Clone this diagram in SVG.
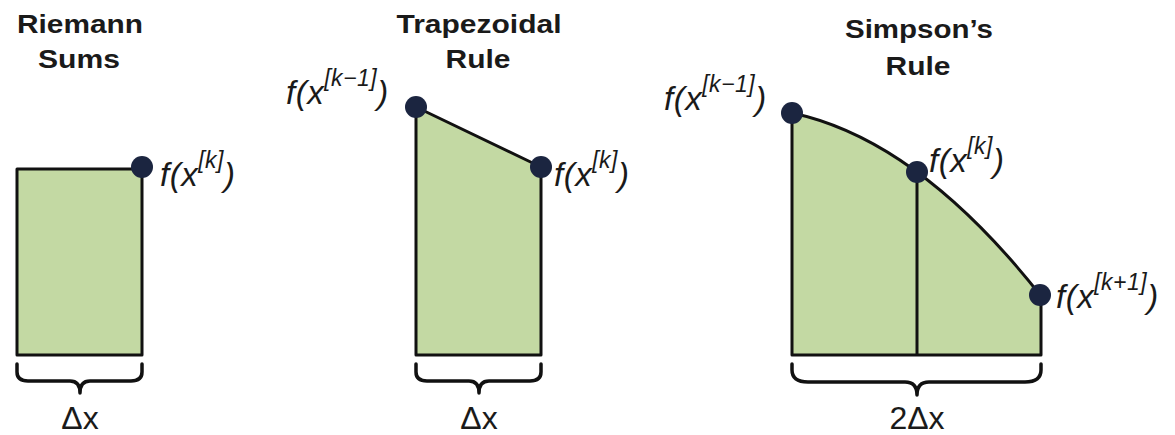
<svg xmlns="http://www.w3.org/2000/svg" width="1175" height="435" viewBox="0 0 1175 435">
<style>
.title{font-family:"Liberation Sans",Arial,sans-serif;font-weight:bold;font-size:25px;fill:#1a1a1a;text-anchor:middle}
.lab{font-family:"Liberation Sans",Arial,sans-serif;font-style:italic;font-size:33px;fill:#1a1a1a;letter-spacing:0.5px}
.sup{font-size:23px}
.dx{font-family:"Liberation Sans",Arial,sans-serif;font-size:32px;fill:#1a1a1a;text-anchor:middle}
.area{fill:#c3d9a3;stroke:#111;stroke-width:3;stroke-linejoin:round}
.edge{fill:none;stroke:#111;stroke-width:3}
.brace{fill:none;stroke:#111;stroke-width:3.5;stroke-linecap:round;stroke-linejoin:round}
.dot{fill:#1b2540}
</style>
<rect width="1175" height="435" fill="#ffffff"/>

<g id="riemann">
  <text class="title" x="80" y="33" textLength="126" lengthAdjust="spacingAndGlyphs">Riemann</text>
  <text class="title" x="79" y="68" textLength="82" lengthAdjust="spacingAndGlyphs">Sums</text>
  <rect class="area" x="17" y="169" width="125" height="186"/>
  <circle class="dot" cx="142" cy="167" r="11"/>
  <text class="lab" x="160" y="186">f(x<tspan class="sup" dy="-18">[k]</tspan><tspan dy="18">)</tspan></text>
  <text class="dx" x="80" y="429">Δx</text>
</g>

<g id="trapezoidal">
  <text class="title" x="479" y="33" textLength="165" lengthAdjust="spacingAndGlyphs">Trapezoidal</text>
  <text class="title" x="478" y="68" textLength="65" lengthAdjust="spacingAndGlyphs">Rule</text>
  <polygon class="area" points="416,107 541,167 541,355 416,355"/>
  <circle class="dot" cx="416" cy="107" r="11"/>
  <circle class="dot" cx="541" cy="167" r="11"/>
  <text class="lab" x="286" y="104">f(x<tspan class="sup" dy="-18">[k−1]</tspan><tspan dy="18">)</tspan></text>
  <text class="lab" x="554" y="186">f(x<tspan class="sup" dy="-18">[k]</tspan><tspan dy="18">)</tspan></text>
  <text class="dx" x="479" y="429">Δx</text>
</g>

<g id="simpson">
  <text class="title" x="919" y="38" textLength="148" lengthAdjust="spacingAndGlyphs">Simpson’s</text>
  <text class="title" x="918" y="75" textLength="65" lengthAdjust="spacingAndGlyphs">Rule</text>
  <path class="area" d="M792,113 Q917.5,139.5 1041,296 L1041,355 L792,355 Z"/>
  <line class="edge" x1="917" y1="172" x2="917" y2="355"/>
  <circle class="dot" cx="792" cy="113" r="11"/>
  <circle class="dot" cx="917" cy="172" r="11"/>
  <circle class="dot" cx="1040" cy="295" r="11"/>
  <text class="lab" x="664" y="110">f(x<tspan class="sup" dy="-18">[k−1]</tspan><tspan dy="18">)</tspan></text>
  <text class="lab" x="929" y="172">f(x<tspan class="sup" dy="-18">[k]</tspan><tspan dy="18">)</tspan></text>
  <text class="lab" x="1056" y="308">f(x<tspan class="sup" dy="-18">[k+1]</tspan><tspan dy="18">)</tspan></text>
  <text class="dx" x="917" y="429">2Δx</text>
</g>

<g id="connectors">
  <path class="brace" d="M17,364 L17,372 Q17,381 28,381 L70,381 Q80,381 80,393 Q80,381 90,381 L131,381 Q142,381 142,372 L142,364"/>
  <path class="brace" d="M416,364 L416,372 Q416,381 427,381 L469,381 Q479,381 479,393 Q479,381 489,381 L530,381 Q541,381 541,372 L541,364"/>
  <path class="brace" d="M792,364 L792,370 Q792,382 808,382 L905,382 Q917,382 917,395 Q917,382 929,382 L1025,382 Q1041,382 1041,370 L1041,364"/>
</g>
</svg>
